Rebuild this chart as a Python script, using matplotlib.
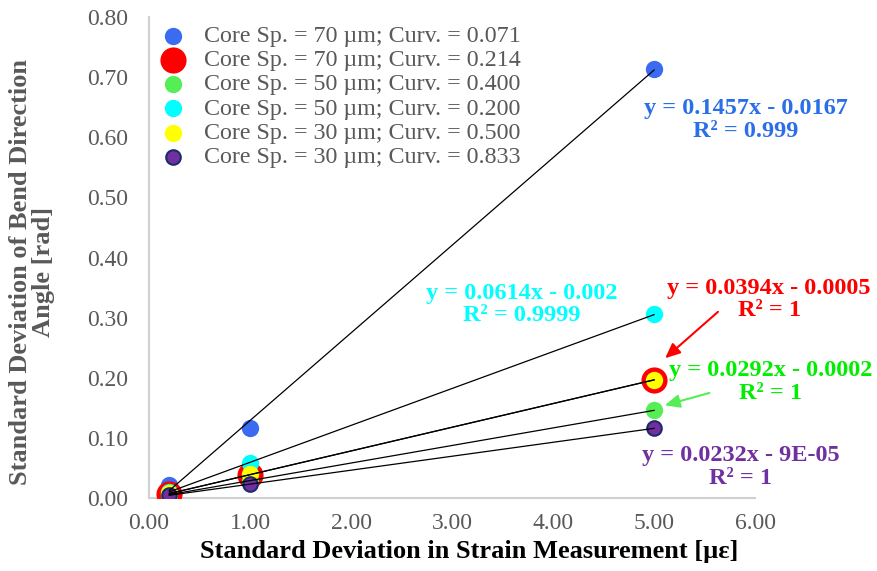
import matplotlib
matplotlib.use("Agg")
import matplotlib.pyplot as plt
import numpy as np

plt.rcParams['font.family'] = ['Liberation Serif', 'DejaVu Serif']

# strain standard deviation levels [με]
strain_sd = [0.2, 1.0, 5.0]

labels = [
    "Core Sp. = 70 µm; Curv. = 0.071",
    "Core Sp. = 70 µm; Curv. = 0.214",
    "Core Sp. = 50 µm; Curv. = 0.400",
    "Core Sp. = 50 µm; Curv. = 0.200",
    "Core Sp. = 30 µm; Curv. = 0.500",
    "Core Sp. = 30 µm; Curv. = 0.833",
]

# standard deviation of bend direction angle [rad]
angle_70_071 = [0.021, 0.117, 0.714]
angle_70_214 = [0.0074, 0.0389, 0.1965]
angle_50_400 = [0.0056, 0.0290, 0.1458]
angle_50_200 = [0.0105, 0.0580, 0.3055]
angle_30_500 = [0.0078, 0.0392, 0.1968]
angle_30_833 = [0.0045, 0.0230, 0.1159]

# linear trendline coefficients
slopes = [0.1457, 0.0394, 0.0292, 0.0614, 0.0394, 0.0232]
intercepts = [-0.0167, -0.0005, -0.0002, -0.002, -0.0005, -0.00009]
eq_text = [
    "y = 0.1457x - 0.0167\nR² = 0.999",
    "y = 0.0394x - 0.0005\nR² = 1",
    "y = 0.0292x - 0.0002\nR² = 1",
    "y = 0.0614x - 0.002\nR² = 0.9999",
    None,
    "y = 0.0232x - 9E-05\nR² = 1",
]

series = [angle_70_071, angle_70_214, angle_50_400, angle_50_200, angle_30_500, angle_30_833]
face = ["#3A6BF0", "#FF0000", "#55EE55", "#00FFFF", "#FFFF00", "#7030A0"]
edge = ["#3A6BF0", "#FF0000", "#55EE55", "#00FFFF", "#FFFF00", "#1F2A6B"]
sizes = [120, 300, 120, 120, 120, 110]
text_col = ["#2A6FE8", "#FF0000", "#00EE00", "#00FFFF", None, "#7030A0"]

fig = plt.figure(figsize=(8.77, 5.71), dpi=100)
ax = fig.add_axes([0.170, 0.1278, 0.691, 0.8424])

for ys, fc, ec, s, lab in zip(series, face, edge, sizes, labels):
    ax.scatter(strain_sd, ys, s=s, facecolor=fc, edgecolor=ec, linewidth=1.5,
               label=lab, zorder=3)

xfit = np.array([min(strain_sd), max(strain_sd)])
for m, b in zip(slopes, intercepts):
    ax.plot(xfit, m * xfit + b, color="black", linewidth=0.9, zorder=4)

# equation labels (data coordinates)
eq_pos = [(5.91, 0.629), (6.14, 0.330), (6.15, 0.193), (3.693, 0.322), None, (5.86, 0.052)]
for txt, pos, col in zip(eq_text, eq_pos, text_col):
    if txt is None:
        continue
    ax.text(pos[0], pos[1], txt, color=col, fontsize=17.5, fontweight="bold",
            ha="center", va="center", linespacing=1.1, zorder=5, clip_on=False)

ax.annotate("", xy=(5.089, 0.2295), xytext=(5.653, 0.3127),
            arrowprops=dict(arrowstyle="-|>,head_length=0.9,head_width=0.4",
                            color="#FF0000", lw=1.5))
ax.annotate("", xy=(5.079, 0.153), xytext=(5.574, 0.176),
            arrowprops=dict(arrowstyle="-|>,head_length=0.9,head_width=0.4",
                            color="#55EE55", lw=1.5))

ax.set_xlim(0, 6)
ax.set_ylim(0, 0.8)
ax.set_xticks(np.arange(0, 6.01, 1.0))
ax.set_yticks(np.arange(0, 0.801, 0.1))
ax.xaxis.set_major_formatter(matplotlib.ticker.FormatStrFormatter("%.2f"))
ax.yaxis.set_major_formatter(matplotlib.ticker.FormatStrFormatter("%.2f"))
ax.tick_params(length=0, labelsize=17, labelcolor="#595959")
ax.tick_params(axis="y", pad=15)
ax.tick_params(axis="x", pad=11)

for side in ["top", "right"]:
    ax.spines[side].set_visible(False)
for side in ["left", "bottom"]:
    ax.spines[side].set_color("#D0D0D0")
    ax.spines[side].set_linewidth(1.5)

ax.set_xlabel("Standard Deviation in Strain Measurement [µε]", fontsize=19,
              fontweight="bold", color="black")
ax.xaxis.set_label_coords(0.528, -0.088)
ax.set_ylabel("Standard Deviation of Bend Direction\nAngle [rad]", fontsize=19,
              fontweight="bold", color="#595959", linespacing=1.0)
ax.yaxis.set_label_coords(-0.193, 0.47)
ax.yaxis.label.set_verticalalignment("center")

leg = ax.legend(loc="upper left", frameon=False, fontsize=17.3, labelspacing=0.1,
                handletextpad=0.6, borderaxespad=0.0, bbox_to_anchor=(0.004, 0.993),
                scatterpoints=1, handlelength=1.4, borderpad=0.2)
for t in leg.get_texts():
    t.set_color("#595959")

fig.savefig("out.png", dpi=100)
